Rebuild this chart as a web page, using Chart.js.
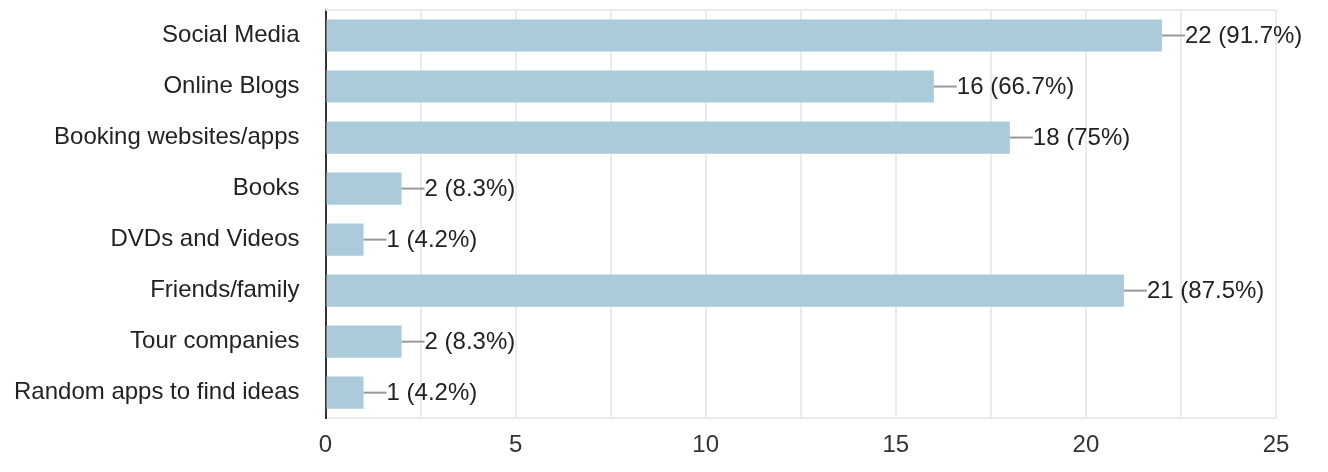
<!DOCTYPE html>
<html>
<head>
<meta charset="utf-8">
<script src="https://cdn.jsdelivr.net/npm/chart.js@4/dist/chart.umd.min.js"></script>
<style>
  html, body { margin: 0; padding: 0; background: #fff; }
  #wrap { width: 1328px; height: 472px; }
</style>
</head>
<body>
<div id="wrap"><canvas id="sourcesChart" width="1328" height="472"></canvas></div>
<script>
const categories = ['Social Media', 'Online Blogs', 'Booking websites/apps', 'Books',
  'DVDs and Videos', 'Friends/family', 'Tour companies', 'Random apps to find ideas'];
const counts = [22, 16, 18, 2, 1, 21, 2, 1];
const percents = ['91.7%', '66.7%', '75%', '8.3%', '4.2%', '87.5%', '8.3%', '4.2%'];
const xTicks = [0, 5, 10, 15, 20, 25];

const FONT = 'Arial, "Liberation Sans", Helvetica, sans-serif';

// leader line + "n (p%)" after each bar, and the light frame line on top
const valueLabels = {
  id: 'valueLabels',
  beforeDatasetsDraw(chart) {
    const { ctx, chartArea } = chart;
    ctx.save();
    ctx.strokeStyle = '#ebebeb';
    ctx.lineWidth = 2;
    ctx.beginPath();
    ctx.moveTo(chartArea.left, chartArea.top);
    ctx.lineTo(chartArea.right, chartArea.top);
    ctx.stroke();
    ctx.restore();
  },
  afterDatasetsDraw(chart) {
    const { ctx } = chart;
    const meta = chart.getDatasetMeta(0);
    ctx.save();
    ctx.font = '24px ' + FONT;
    ctx.textBaseline = 'middle';
    ctx.textAlign = 'left';
    meta.data.forEach((bar, i) => {
      ctx.strokeStyle = '#999999';
      ctx.lineWidth = 2;
      ctx.beginPath();
      ctx.moveTo(bar.x, bar.y);
      ctx.lineTo(bar.x + 23, bar.y);
      ctx.stroke();
      ctx.fillStyle = '#222222';
      ctx.fillText(counts[i] + ' (' + percents[i] + ')', bar.x + 23, bar.y + 1);
    });
    ctx.restore();
  }
};

new Chart(document.getElementById('sourcesChart').getContext('2d'), {
  type: 'bar',
  data: {
    labels: categories,
    datasets: [{
      data: counts,
      backgroundColor: '#abcbdb',
      borderWidth: 0,
      barPercentage: 0.63,
      categoryPercentage: 1
    }]
  },
  options: {
    indexAxis: 'y',
    responsive: false,
    animation: false,
    layout: { padding: { top: 10, right: 52, left: 14, bottom: 12 } },
    plugins: {
      legend: { display: false },
      tooltip: { enabled: false }
    },
    scales: {
      x: {
        min: 0,
        max: 25,
        ticks: {
          stepSize: 2.5,
          padding: 0,
          color: '#333333',
          font: { family: FONT, size: 24 },
          callback: v => xTicks.includes(v) ? String(v) : ''
        },
        grid: { color: '#ebebeb', lineWidth: 2, drawTicks: true, tickLength: 13, tickColor: 'rgba(0,0,0,0)' },
        border: { color: '#ebebeb', width: 2 }
      },
      y: {
        afterFit(scale) {
          scale.paddingTop = 0;
          scale.paddingBottom = 0;
        },
        ticks: {
          padding: 0,
          color: '#222222',
          font: { family: FONT, size: 24 }
        },
        grid: { display: true, drawOnChartArea: false, drawTicks: true, tickLength: 26, color: 'rgba(0,0,0,0)' },
        border: { color: '#333333', width: 2 }
      }
    }
  },
  plugins: [valueLabels]
});
</script>
</body>
</html>
